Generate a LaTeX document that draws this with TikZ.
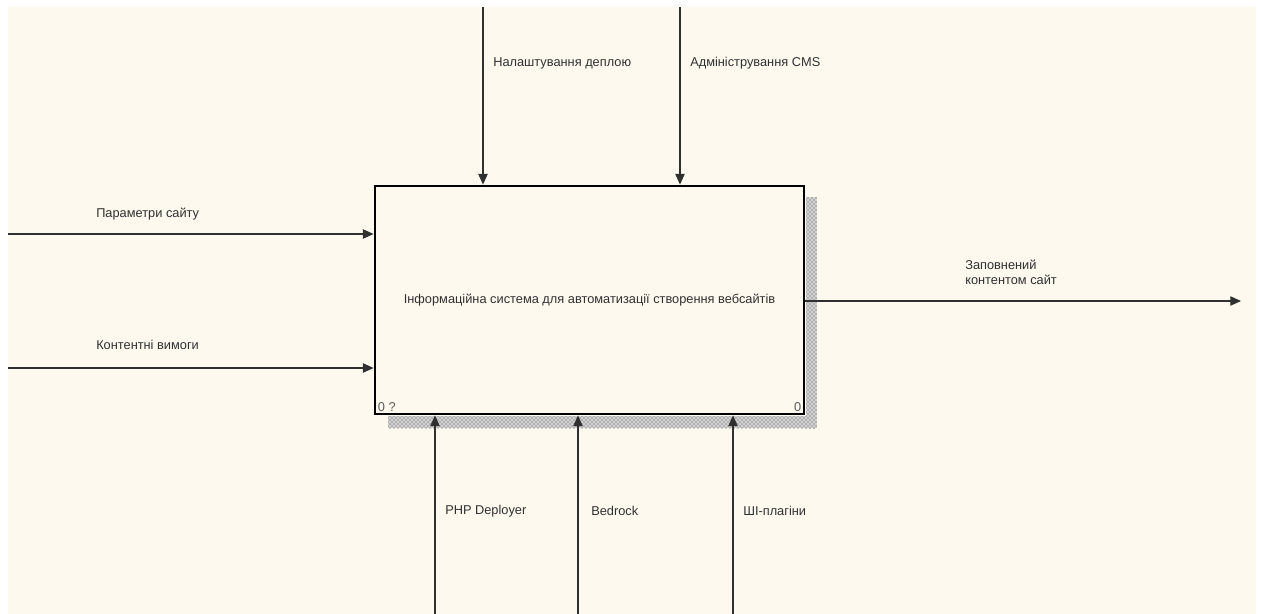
\documentclass[tikz,border=0pt]{standalone}
\usepackage{fontspec}
\setmainfont{Liberation Sans}
\usetikzlibrary{arrows.meta,patterns}

\definecolor{paper}{HTML}{FDF9EE}
\definecolor{ink}{HTML}{303030}

\begin{document}
\begin{tikzpicture}[x=0.75pt,y=-0.75pt,
    font=\fontsize{9.6pt}{11.5pt}\selectfont,
    arr/.style={draw=ink,line width=0.8pt,-{Triangle[length=8pt,width=7pt]}},
    lbl/.style={anchor=west,inner sep=0pt,text=ink,align=left},
    func/.style={draw=black,line width=2.1pt,fill=paper,rectangle,text=ink,
      minimum width=321.75pt,minimum height=171pt,inner sep=0pt},
    shade/.style={fill=gray!35,postaction={pattern=crosshatch dots,pattern color=gray!55!black}}]
  \useasboundingbox (0,0) rectangle (1261,614);
  \fill[paper] (8,7) rectangle (1256,614);
  % shadow of the box
  \fill[shade] (806,197) rectangle (817,428);
  \fill[shade] (388,416) rectangle (817,428);
  \node[func] (sys) at (589.5,300) {Інформаційна система для автоматизації створення вебсайтів};
  \node[anchor=south west,text=gray!70!black,inner sep=3pt] (num) at (sys.south west) {0 ?};
  \node[anchor=south east,text=gray!70!black,inner sep=3pt] (idx) at (sys.south east) {0};
  % controls
  \coordinate (c1) at (483,7);
  \coordinate (c2) at (680,7);
  \draw[arr] (c1) -- (c1 |- sys.north);
  \draw[arr] (c2) -- (c2 |- sys.north);
  \node[lbl] (l_c1) at (493,63) {Налаштування деплою};
  \node[lbl] (l_c2) at (690,63) {Адміністрування CMS};
  % inputs
  \coordinate (i1) at (8,234);
  \coordinate (i2) at (8,368);
  \draw[arr] (i1) -- (i1 -| sys.west);
  \draw[arr] (i2) -- (i2 -| sys.west);
  \node[lbl] (l_i1) at (96,214) {Параметри сайту};
  \node[lbl] (l_i2) at (96,345) {Контентні вимоги};
  % output
  \coordinate (o1) at (1241,301);
  \draw[arr] (o1 -| sys.east) -- (o1);
  \node[lbl] (l_o1) at (965,272) {Заповнений\\контентом сайт};
  % mechanisms
  \coordinate (m1) at (435,614);
  \coordinate (m2) at (578,614);
  \coordinate (m3) at (733,614);
  \draw[arr] (m1) -- (m1 |- sys.south);
  \draw[arr] (m2) -- (m2 |- sys.south);
  \draw[arr] (m3) -- (m3 |- sys.south);
  \node[lbl] (l_m1) at (445,511) {PHP Deployer};
  \node[lbl] (l_m2) at (591,511) {Bedrock};
  \node[lbl] (l_m3) at (743,511) {ШІ-плагіни};
\end{tikzpicture}
\end{document}
